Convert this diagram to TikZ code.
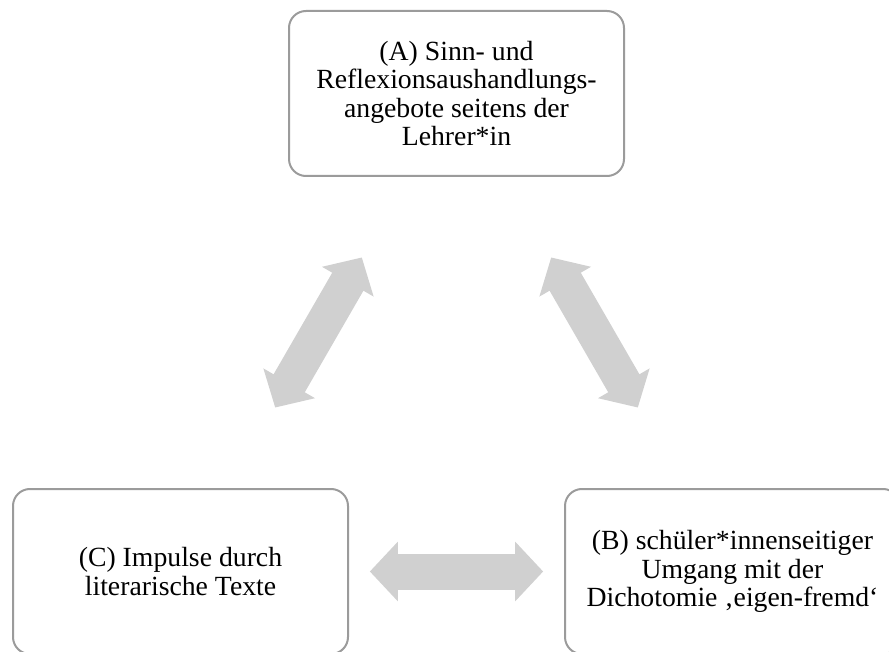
\documentclass[tikz,border=0pt]{standalone}
\usepackage{fontspec}
\setmainfont{Liberation Serif}
\usepackage{tikz}
\usetikzlibrary{arrows.meta}
\definecolor{boxgray}{HTML}{9B9B9B}
\definecolor{arrowgray}{HTML}{D0D0D0}

\begin{document}
\begin{tikzpicture}[x=0.75pt,y=-0.75pt,
    box/.style={draw=boxgray, line width=1.5pt, rounded corners=12.75pt,
        minimum width=251.25pt, minimum height=123.75pt, inner sep=0pt,
        align=center, font=\fontsize{20.8}{21.4}\selectfont},
    exchange/.style={draw=arrowgray, line width=27pt,
        {Triangle[width=43.5pt,length=21pt]}-{Triangle[width=43.5pt,length=21pt]},
        shorten <=142pt, shorten >=142pt}]
    \useasboundingbox (0,0) rectangle (889,652);
    \clip (0,0) rectangle (889,652);

    % the three boxes
    \node[box] (A) at (456.5,93.5) {(A) Sinn- und\\Reflexionsaushandlungs-\\angebote seitens der\\Lehrer*in};
    \node[box] (C) at (180.5,571.5) {(C) Impulse durch\\literarische Texte};
    \node[box] (B) at (732.5,571.5) {(B) schüler*innenseitiger\\Umgang mit der\\Dichotomie ‚eigen-fremd‘};

    % block arrows between them
    \draw[exchange] (C.center) -- (A.center);
    \draw[exchange] (A.center) -- (B.center);
    \draw[exchange] (C.center) -- (B.center);
\end{tikzpicture}
\end{document}
